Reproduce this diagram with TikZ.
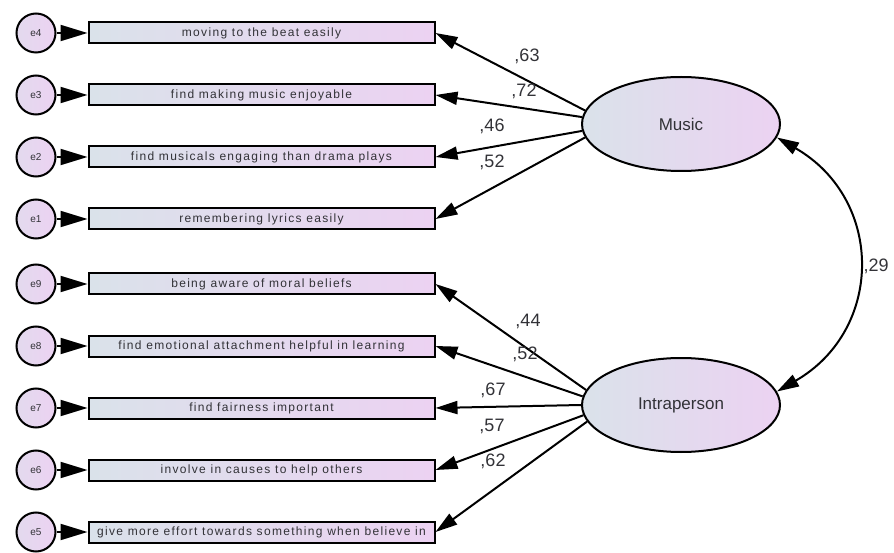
\documentclass[tikz,border=0pt]{standalone}
\usepackage{fontspec}
\setmainfont{Liberation Sans}
\newfontfamily\boxfont[LetterSpace=11]{Liberation Sans}
\usepackage{tikz}
\usetikzlibrary{shapes.geometric, arrows.meta, positioning}

\definecolor{fillL}{RGB}{218,226,234}
\definecolor{fillR}{RGB}{236,210,242}
\definecolor{txt}{RGB}{50,50,55}

\begin{document}
\begin{tikzpicture}[
    x=1pt, y=1pt,
    err/.style={circle, draw, line width=2pt, minimum size=39pt, inner sep=0pt, left color=fillL!50!fillR, right color=fillR, text=txt, font=\fontsize{10}{10}\selectfont},
    obs/.style={rectangle, draw, line width=2pt, minimum width=346pt, minimum height=21pt, inner sep=0pt, left color=fillL, right color=fillR, text=txt, font=\boxfont\fontsize{12}{12}\selectfont},
    lat/.style={ellipse, draw, line width=2pt, minimum width=198pt, minimum height=94pt, inner sep=0pt, left color=fillL, right color=fillR, text=txt, font=\fontsize{17}{17}\selectfont},
    wt/.style={text=txt, font=\fontsize{18}{18}\selectfont},
    arr/.style={-{Triangle[length=22pt, width=13pt]}, line width=2pt},
    earr/.style={-{Triangle[length=27pt, width=16pt]}, line width=2pt},
    cov/.style={{Triangle[length=22pt, width=13pt]}-{Triangle[length=22pt, width=13pt]}, line width=2pt}
]
\useasboundingbox (0,0) rectangle (894,-553);

%% ── Observed items, Music (rows 1-4) ────────────────────────────────────────
\node[obs] (o4) at (261.5,-33)  {moving to the beat easily};
\node[obs] (o3) at (261.5,-95)  {find making music enjoyable};
\node[obs] (o2) at (261.5,-157) {find musicals engaging than drama plays};
\node[obs] (o1) at (261.5,-219) {remembering lyrics easily};

%% ── Observed items, Intraperson (rows 5-9) ──────────────────────────────────
\node[obs] (o9) at (261.5,-284) {being aware of moral beliefs};
\node[obs] (o8) at (261.5,-346) {find emotional attachment helpful in learning};
\node[obs] (o7) at (261.5,-408) {find fairness important};
\node[obs] (o6) at (261.5,-470) {involve in causes to help others};
\node[obs] (o5) at (261.5,-532) {give more effort towards something when believe in};

%% ── Error terms ─────────────────────────────────────────────────────────────
\node[err] (e4) at (36,-33)  {e4};
\node[err] (e3) at (36,-95)  {e3};
\node[err] (e2) at (36,-157) {e2};
\node[err] (e1) at (36,-219) {e1};
\node[err] (e9) at (36,-284) {e9};
\node[err] (e8) at (36,-346) {e8};
\node[err] (e7) at (36,-408) {e7};
\node[err] (e6) at (36,-470) {e6};
\node[err] (e5) at (36,-532) {e5};

%% ── Latent factors ──────────────────────────────────────────────────────────
\node[lat] (music) at (681,-124) {Music};
\node[lat] (intra) at (681,-405) {Intraperson};

%% ── Error arrows ────────────────────────────────────────────────────────────
\draw[earr] (e4)--(o4); \draw[earr] (e3)--(o3);
\draw[earr] (e2)--(o2); \draw[earr] (e1)--(o1);
\draw[earr] (e9)--(o9); \draw[earr] (e8)--(o8);
\draw[earr] (e7)--(o7); \draw[earr] (e6)--(o6);
\draw[earr] (e5)--(o5);

%% ── Music loadings ──────────────────────────────────────────────────────────
\draw[arr] (music.172) -- (o4.east);
\draw[arr] (music.176) -- (o3.east);
\draw[arr] (music.184) -- (o2.east);
\draw[arr] (music.188) -- (o1.east);

%% ── Intraperson loadings ────────────────────────────────────────────────────
\draw[arr] (intra.171) -- (o9.east);
\draw[arr] (intra.175) -- (o8.east);
\draw[arr] (intra.180) -- (o7.east);
\draw[arr] (intra.186) -- (o6.east);
\draw[arr] (intra.190) -- (o5.east);

%% ── Loading weights ─────────────────────────────────────────────────────────
\node[wt] (w4) at (527,-56)  {,63};
\node[wt] (w3) at (524,-91)  {,72};
\node[wt] (w2) at (492,-126) {,46};
\node[wt] (w1) at (492,-162) {,52};
\node[wt] (w9) at (528,-321) {,44};
\node[wt] (w8) at (525,-354) {,52};
\node[wt] (w7) at (493,-390) {,67};
\node[wt] (w6) at (492,-426) {,57};
\node[wt] (w5) at (493,-461) {,62};

%% ── Factor covariance ───────────────────────────────────────────────────────
\draw[cov] (music.-8) to[out=-30, in=30, looseness=1.25] (intra.8);
\node[wt] (w29) at (876,-266) {,29};

\end{tikzpicture}
\end{document}
